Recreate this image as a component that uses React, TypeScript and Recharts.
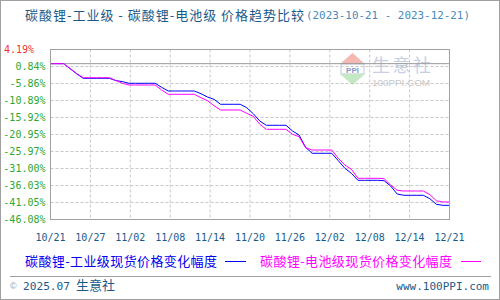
import React from 'react';
import { LineChart, Line, XAxis, YAxis, CartesianGrid, ReferenceLine } from 'recharts';

const industrial: number[] = [
  0, 0, 0, -1.5, -3.0, -4.33, -4.33, -4.33, -4.33, -4.33,
  -5.0, -5.3, -5.8, -5.8, -5.8, -5.8, -5.8, -7.0, -8.08, -8.08,
  -8.08, -8.08, -8.08, -8.88, -9.86, -10.54, -12.01, -12.01, -12.01, -12.01,
  -13.02, -14.79, -16.95, -18.22, -18.22, -18.22, -18.22, -19.91, -21.09, -24.73,
  -26.5, -26.5, -26.5, -26.5, -28.69, -30.94, -32.42, -34.49, -34.49, -34.49,
  -34.49, -34.6, -36.17, -38.54, -38.92, -38.92, -38.92, -38.92, -39.93, -41.6,
  -41.89, -41.89,
];

const battery: number[] = [
  0, 0, 0, -1.4, -2.9, -4.15, -4.15, -4.15, -4.15, -4.15,
  -5.0, -5.8, -6.31, -6.31, -6.31, -6.31, -6.31, -7.8, -9.06, -9.06,
  -9.06, -9.06, -9.06, -10.06, -10.95, -12.43, -13.7, -13.7, -13.7, -13.7,
  -14.68, -15.56, -17.93, -19.41, -19.41, -19.41, -19.41, -20.89, -21.59, -24.85,
  -25.53, -25.53, -25.53, -25.53, -27.98, -29.96, -31.23, -33.9, -33.9, -33.9,
  -33.9, -34.0, -35.88, -37.44, -37.65, -37.65, -37.65, -37.65, -38.74, -40.55,
  -40.9, -40.9,
];

const xTickLabels: string[] = ['10/21', '10/27', '11/02', '11/08', '11/14', '11/20', '11/26', '12/02', '12/08', '12/14', '12/21'];
const yTicks: number[] = [4.19, -0.84, -5.86, -10.89, -15.92, -20.95, -25.97, -31.0, -36.03, -41.05, -46.08];
const yTickLabels: string[] = ['4.19%', '0.84%', '-5.86%', '-10.89%', '-15.92%', '-20.95%', '-25.97%', '-31.00%', '-36.03%', '-41.05%', '-46.08%'];

const titleMain = '碳酸锂-工业级 - 碳酸锂-电池级 价格趋势比较';
const titleDates = '(2023-10-21 - 2023-12-21)';
const seriesNames: string[] = ['碳酸锂-工业级现货价格变化幅度', '碳酸锂-电池级现货价格变化幅度'];

const lastIndex = industrial.length - 1;
const data = industrial.map((v, i) => ({ i, industrial: v, battery: battery[i] }));
const xTicks = xTickLabels.map((_, k) => (k * lastIndex) / (xTickLabels.length - 1));

const MONO = '"DejaVu Sans Mono", "Liberation Mono", monospace';
const CJK = '"Noto Sans CJK SC", "Noto Sans", sans-serif';

const YTick = (props: any) => {
  const { y, payload } = props;
  const idx = yTicks.findIndex((t) => Math.abs(t - payload.value) < 0.001);
  if (idx < 0) return null;
  if (idx === 0) {
    return (
      <text x={4} y={y + 3.5} fontSize={10} fontFamily={MONO} fill="#ee3333" textAnchor="start">
        {yTickLabels[idx]}
      </text>
    );
  }
  return (
    <text x={45.5} y={y + 3.5} fontSize={10} fontFamily={MONO} fill="#2ea82e" textAnchor="end">
      {yTickLabels[idx]}
    </text>
  );
};

const XTick = (props: any) => {
  const { x, index } = props;
  return (
    <text x={x} y={241} fontSize={10} fontFamily={MONO} fill="#1a5a8a" textAnchor="middle">
      {xTickLabels[index]}
    </text>
  );
};

export default function App() {
  return (
    <div style={{ position: 'absolute', left: 0, top: 0, width: 500, height: 300, background: '#fff' }}>
      <svg width={500} height={300} style={{ position: 'absolute', left: 0, top: 0 }}>
        <polygon points="340,64 365,64 352.5,53" fill="#f5b8b2" />
        <rect x={341} y={64} width={23} height={10} fill="#ffffff" stroke="#c0c8dc" strokeWidth={1} />
        <text x={352.5} y={72.5} fontSize={8} fontWeight="bold" fontFamily="sans-serif" fill="#8a98c4" textAnchor="middle">PPI</text>
        <polygon points="340,74 365,74 352.5,85" fill="#c4e8c4" />
        <text x={372} y={72} fontSize={18} fontFamily={CJK} fill="#c7cfe3" letterSpacing={2.5}>生意社</text>
        <text x={372} y={86} fontSize={9} fontFamily="sans-serif" fill="#c8c8c8" textLength={58} lengthAdjust="spacingAndGlyphs">100PPI.COM</text>
      </svg>
      <div style={{ position: 'absolute', left: 0, top: 0 }}>
        <LineChart width={500} height={300} data={data} margin={{ top: 49.5, right: 50.5, bottom: 0, left: 0 }}>
          <CartesianGrid stroke="#c8c8c8" strokeDasharray="3 2" />
          <XAxis
            dataKey="i"
            type="number"
            domain={[0, lastIndex]}
            ticks={xTicks}
            interval={0}
            height={80.5}
            axisLine={false}
            tickLine={false}
            tick={<XTick />}
          />
          <YAxis
            type="number"
            domain={[yTicks[yTicks.length - 1], yTicks[0]]}
            ticks={yTicks}
            interval={0}
            width={50.5}
            axisLine={false}
            tickLine={false}
            tick={<YTick />}
          />
          <ReferenceLine y={0} stroke="#999999" strokeWidth={1} />
          <Line dataKey="industrial" stroke="#0000ff" strokeWidth={1} dot={false} isAnimationActive={false} />
          <Line dataKey="battery" stroke="#ff00ff" strokeWidth={1} dot={false} isAnimationActive={false} />
        </LineChart>
      </div>
      <svg width={500} height={300} style={{ position: 'absolute', left: 0, top: 0, pointerEvents: 'none' }}>
        <rect x={0.5} y={0.5} width={499} height={299} fill="none" stroke="#a0a0a0" />
        <rect x={50.5} y={49.5} width={399} height={170} fill="none" stroke="#a0a0a0" />
        <text x={25} y={19.5} fontSize={13} fontFamily={CJK} fill="#1a5a8a" textLength={279} lengthAdjust="spacing">
          {titleMain}
        </text>
        <text x={306} y={19} fontSize={11} fontFamily={MONO} fill="#4a8ab8" textLength={164} lengthAdjust="spacingAndGlyphs">
          {titleDates}
        </text>
        <text x={25} y={265.5} fontSize={13} fontFamily={CJK} fill="#0000ee" textLength={192} lengthAdjust="spacing">
          {seriesNames[0]}
        </text>
        <line x1={225} x2={246} y1={261.5} y2={261.5} stroke="#0000ff" />
        <text x={260} y={265.5} fontSize={13} fontFamily={CJK} fill="#ff00ff" textLength={192} lengthAdjust="spacing">
          {seriesNames[1]}
        </text>
        <line x1={461} x2={481} y1={261.5} y2={261.5} stroke="#ff00ff" />
        <line x1={10} x2={491} y1={276.5} y2={276.5} stroke="#a0a0a0" />
        <text x={10} y={289} fontSize={9} fontFamily="sans-serif" fill="#8aa0b0">©</text>
        <text x={23} y={290} fontSize={11} fontFamily={MONO} fill="#1a5a8a" textLength={47} lengthAdjust="spacingAndGlyphs">2025.07</text>
        <text x={76} y={290} fontSize={13} fontFamily={CJK} fill="#1a5a8a">生意社</text>
        <text x={489} y={290} fontSize={11} fontFamily={MONO} fill="#1a5a8a" textAnchor="end">www.100PPI.com</text>
      </svg>
    </div>
  );
}
